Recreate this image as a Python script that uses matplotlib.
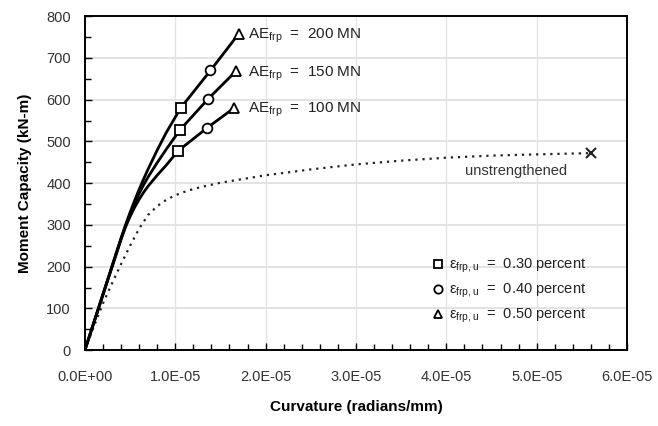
import matplotlib.pyplot as plt
from matplotlib.lines import Line2D
from matplotlib.ticker import MultipleLocator, FuncFormatter

plt.rcParams['font.family'] = ['Liberation Sans', 'DejaVu Sans']
plt.rcParams['mathtext.fontset'] = 'custom'
plt.rcParams['mathtext.rm'] = 'Liberation Sans'
plt.rcParams['mathtext.it'] = 'Liberation Sans'

# curvature in 1E-05 rad/mm, moment in kN-m
x_100 = [0, 0.4, 0.45, 0.5, 0.55, 0.6, 0.65, 0.7, 0.8, 0.9, 1.03, 1.35, 1.65]
m_100 = [0, 265, 295, 320, 342, 361, 378, 393, 419, 443, 477, 532, 580]
x_150 = [0, 0.4, 0.45, 0.5, 0.55, 0.6, 0.65, 0.7, 0.8, 0.9, 1.05, 1.36, 1.67]
m_150 = [0, 267, 298, 326, 352, 375, 396, 415, 449, 481, 527, 601, 668]
x_200 = [0, 0.4, 0.45, 0.5, 0.55, 0.6, 0.65, 0.7, 0.8, 0.9, 1.06, 1.39, 1.70]
m_200 = [0, 268, 300, 330, 358, 385, 410, 434, 479, 521, 580, 670, 757]
x_un = [0, 0.1, 0.2, 0.3, 0.4, 0.5, 0.6, 0.7, 0.8, 0.9, 1.0, 1.1, 1.2, 1.35,
        1.5, 2.0, 2.5, 3.0, 3.5, 4.0, 4.5, 5.0, 5.6]
m_un = [0, 57, 112, 160, 206, 250, 291, 324, 345, 360, 371, 379, 386, 394,
        401, 419, 433, 445, 454, 461, 466, 469, 472]

curves = [(x_100, m_100, '100'), (x_150, m_150, '150'), (x_200, m_200, '200')]
strains = ['0.30', '0.40', '0.50']
markers = ['s', 'o', '^']

fig = plt.figure(figsize=(6.58, 4.26), dpi=100)
ax = fig.add_axes([0.129, 0.178, 0.824, 0.784])

sc = 1e-5
ax.plot([v * sc for v in x_un], m_un, color='#222222', lw=1.6,
        ls=(0, (1, 2.2)), zorder=3)
ax.plot(x_un[-1] * sc, m_un[-1], marker='x', color='#222222', ms=7, mew=1.5, zorder=4)
ax.text(4.77 * sc, 428, 'unstrengthened', ha='center', va='center',
        fontsize=10.5, color='#333333')

for xs, ms, ae in curves:
    xx = [v * sc for v in xs]
    ax.plot(xx, ms, color='black', lw=2.0, zorder=4)
    for k, mk in zip([-3, -2, -1], markers):
        ax.plot(xx[k], ms[k], marker=mk, ms=7, mfc='white', mec='black',
                mew=1.3, zorder=5)
    ax.text(1.81 * sc, ms[-1] - 5, r'AE$_{\mathregular{frp}}$  =  ' + ae + ' MN',
            ha='left', va='center', fontsize=11, color='#222222')

handles = [Line2D([], [], ls='none', marker=mk, ms=6, mfc='white', mec='black', mew=1.3)
           for mk in markers]
labels = [r'$\varepsilon_{\mathregular{frp,u}}$  =  ' + s + ' percent' for s in strains]
ax.legend(handles, labels, loc='lower right', bbox_to_anchor=(0.948, 0.036),
          frameon=False, fontsize=10.5, handlelength=0.8, handletextpad=0.3,
          labelspacing=0.45, labelcolor='#222222')

ax.set_xlim(0, 6e-5)
ax.set_ylim(0, 800)
ax.xaxis.set_major_locator(MultipleLocator(1e-5))
ax.xaxis.set_minor_locator(MultipleLocator(2e-6))
ax.yaxis.set_major_locator(MultipleLocator(100))
ax.yaxis.set_minor_locator(MultipleLocator(50))
ax.xaxis.set_major_formatter(FuncFormatter(lambda v, p: f'{v:.1E}'))
ax.tick_params(which='both', direction='in', top=False, right=False,
               labelsize=10.5, labelcolor='#333333')
ax.tick_params(axis='x', pad=14)
ax.tick_params(axis='y', pad=10)
ax.tick_params(which='major', length=5, width=1)
ax.tick_params(which='minor', length=4, width=1)
ax.grid(which='major', axis='y', color='#e3e3e3', lw=1.4)
ax.grid(which='major', axis='x', color='#e3e3e3', lw=0.9)
ax.set_axisbelow(True)
for s in ax.spines.values():
    s.set_linewidth(1.4)

ax.set_xlabel('Curvature (radians/mm)', fontweight='bold', fontsize=11, labelpad=12)
ax.set_ylabel('Moment Capacity (kN-m)', fontweight='bold', fontsize=11, labelpad=10)

fig.savefig('out.png', dpi=100)
